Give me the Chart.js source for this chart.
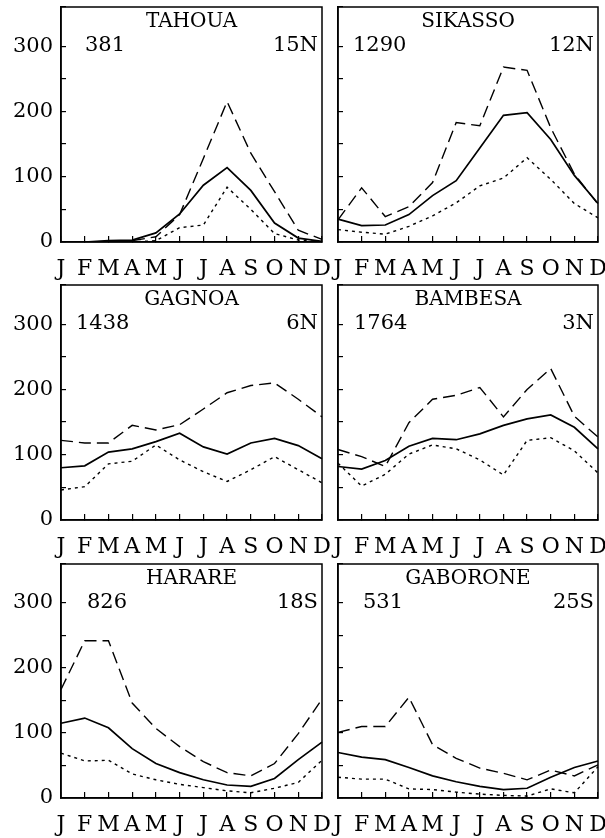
<!DOCTYPE html>
<html>
<head>
<meta charset="utf-8">
<script src="https://cdn.jsdelivr.net/npm/chart.js@4.4.1/dist/chart.umd.min.js"></script>
<style>
  body { margin: 0; background: #fff; width: 605px; height: 838px; position: relative; overflow: hidden; font-family: "DejaVu Serif", serif; }
  canvas { position: absolute; }
  .lbl { position: absolute; color: #000; line-height: 1; white-space: nowrap; }
  .name { font-size: 20px; transform: translate(-50%, -50%); }
  .num { font-size: 21px; transform: translateY(-50%); }
  .lat { font-size: 21px; transform: translate(-100%, -50%); }
</style>
</head>
<body>
<script>
const months = ['J', 'F', 'M', 'A', 'M', 'J', 'J', 'A', 'S', 'O', 'N', 'D'];
const yTicks = [0, 100, 200, 300];

// monthly rainfall (mm): wet year (dashed), mean (solid), dry year (dotted)
const tahouaWet  = [0, 0, 1, 2, 8, 42, 128, 215, 136, 77, 18, 4];
const tahouaMean = [0, 0, 2, 3, 14, 43, 87, 114, 79, 29, 6, 1];
const tahouaDry  = [0, 0, 0, 0, 2, 22, 26, 84, 50, 13, 3, 0];

const sikassoWet  = [34, 83, 39, 54, 91, 183, 178, 268, 263, 175, 104, 58];
const sikassoMean = [35, 25, 26, 42, 71, 94, 144, 194, 198, 157, 102, 59];
const sikassoDry  = [19, 15, 12, 24, 40, 60, 86, 98, 129, 96, 59, 37];

const gagnoaWet  = [122, 118, 118, 145, 138, 146, 170, 195, 206, 210, 185, 158];
const gagnoaMean = [80, 83, 104, 109, 120, 133, 112, 101, 118, 125, 114, 94];
const gagnoaDry  = [46, 51, 86, 90, 115, 92, 74, 59, 77, 97, 77, 57];

const bambesaWet  = [108, 97, 82, 149, 185, 191, 203, 158, 200, 232, 159, 127];
const bambesaMean = [82, 78, 91, 113, 125, 123, 132, 145, 155, 161, 142, 109];
const bambesaDry  = [87, 52, 70, 101, 115, 109, 92, 69, 122, 126, 106, 72];

const harareWet  = [167, 242, 242, 146, 107, 79, 56, 39, 34, 53, 99, 152];
const harareMean = [115, 123, 108, 76, 53, 39, 28, 20, 18, 30, 59, 86];
const harareDry  = [69, 57, 58, 37, 28, 21, 16, 11, 8, 15, 24, 58];

const gaboroneWet  = [101, 110, 110, 155, 82, 61, 46, 38, 28, 43, 34, 51];
const gaboroneMean = [70, 63, 59, 47, 34, 25, 18, 13, 15, 32, 47, 57];
const gaboroneDry  = [32, 29, 29, 14, 13, 9, 6, 4, 3, 14, 8, 48];

const stations = ['TAHOUA', 'SIKASSO', 'GAGNOA', 'BAMBESA', 'HARARE', 'GABORONE'];
const annual = ['381', '1290', '1438', '1764', '826', '531'];
const latitude = ['15N', '12N', '6N', '3N', '18S', '25S'];
const wetSeries = [tahouaWet, sikassoWet, gagnoaWet, bambesaWet, harareWet, gaboroneWet];
const meanSeries = [tahouaMean, sikassoMean, gagnoaMean, bambesaMean, harareMean, gaboroneMean];
const drySeries = [tahouaDry, sikassoDry, gagnoaDry, bambesaDry, harareDry, gaboroneDry];

// layout of the 2 x 3 grid
const cols = [
  { x: 0, w: 330, yAxisW: 61, padRight: 8 },
  { x: 330, w: 275, yAxisW: 8, padRight: 7 }
];
const rows = [
  { y: 0, h: 280, padTop: 7, xAxisH: 38 },
  { y: 280, h: 280, padTop: 5, xAxisH: 40 },
  { y: 560, h: 278, padTop: 4, xAxisH: 40 }
];
const numOffset = [24, 15, 15, 16, 26, 25];

const frame = {
  id: 'frame',
  afterDraw(chart) {
    const a = chart.chartArea, ctx = chart.ctx;
    ctx.save();
    ctx.strokeStyle = '#000';
    ctx.lineWidth = 1.5;
    ctx.strokeRect(a.left, a.top, a.right - a.left, a.bottom - a.top);
    ctx.restore();
  }
};

function addLabel(cls, text, x, y) {
  const d = document.createElement('div');
  d.className = 'lbl ' + cls;
  d.textContent = text;
  d.style.left = x + 'px';
  d.style.top = y + 'px';
  document.body.appendChild(d);
}

function makePanel(i) {
  const col = cols[i % 2], row = rows[Math.floor(i / 2)];
  const canvas = document.createElement('canvas');
  canvas.width = col.w;
  canvas.height = row.h;
  canvas.style.left = col.x + 'px';
  canvas.style.top = row.y + 'px';
  document.body.appendChild(canvas);

  const chart = new Chart(canvas, {
    type: 'line',
    data: {
      labels: months,
      datasets: [
        { data: wetSeries[i], borderColor: '#000', borderWidth: 1.4, borderDash: [12, 6] },
        { data: meanSeries[i], borderColor: '#000', borderWidth: 1.7 },
        { data: drySeries[i], borderColor: '#000', borderWidth: 1.4, borderDash: [3, 4] }
      ]
    },
    options: {
      responsive: false,
      animation: false,
      events: [],
      layout: { padding: { top: row.padTop, right: col.padRight, left: 0, bottom: 0 } },
      elements: { point: { radius: 0 }, line: { tension: 0, fill: false } },
      plugins: { legend: { display: false }, tooltip: { enabled: false } },
      scales: {
        x: {
          offset: false,
          grid: { drawOnChartArea: false, tickLength: -6, color: '#000', lineWidth: 1.2 },
          border: { color: '#000', width: 1.5 },
          ticks: { color: '#000', font: { family: 'DejaVu Serif', size: 22 }, padding: 20, maxRotation: 0, autoSkip: false },
          afterFit(s) { s.height = row.xAxisH; s.paddingLeft = 0; s.paddingRight = 0; }
        },
        y: {
          min: 0,
          max: 360,
          grid: { drawOnChartArea: false, tickLength: -5, color: '#000', lineWidth: 1.2 },
          border: { color: '#000', width: 1.5 },
          ticks: {
            display: i % 2 === 0,
            stepSize: 50,
            color: '#000',
            padding: 13,
            font: { family: 'DejaVu Serif', size: 21 },
            callback: v => yTicks.includes(v) ? String(v) : ''
          },
          afterFit(s) { s.width = col.yAxisW; s.paddingTop = 0; s.paddingBottom = 0; }
        }
      }
    },
    plugins: [frame]
  });

  const a = chart.chartArea;
  const cx = col.x + (a.left + a.right) / 2;
  addLabel('name', stations[i], cx, row.y + a.top + 13);
  addLabel('num', annual[i], col.x + a.left + numOffset[i], row.y + a.top + 37);
  addLabel('lat', latitude[i], col.x + a.right - 4, row.y + a.top + 37);
}

for (let i = 0; i < 6; i++) makePanel(i);
</script>
</body>
</html>
